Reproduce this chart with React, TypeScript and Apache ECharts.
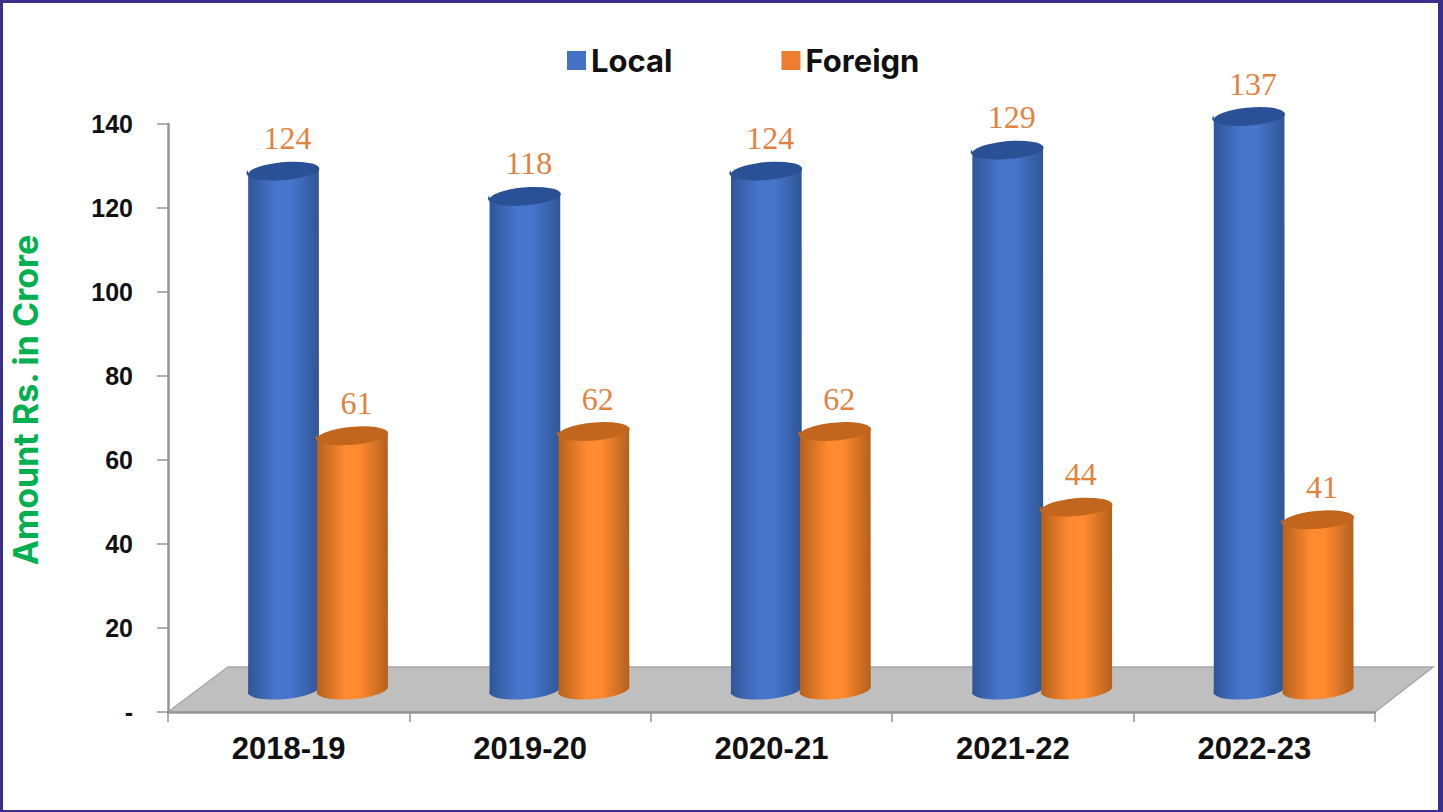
import React, { useEffect, useRef } from "react";
import * as echarts from "echarts";

const categories = ["2018-19", "2019-20", "2020-21", "2021-22", "2022-23"];
const localValues = [124, 118, 124, 129, 137];
const foreignValues = [61, 62, 62, 44, 41];

const W = 1443;
const H = 812;
const SANS = "'Liberation Sans', Arial, sans-serif";
const ROUND = "Inter, 'Noto Sans', sans-serif";
const FRAME = "#3B3089";
const AXIS = "#969696";

const TOP_LIFT = 21;
const BASE_LIFT = 24;
const RY = 9.5;
const TILT = -5;

function cylinder(shift: number, side: string, mid: string, cap: string) {
  return (params: any, api: any) => {
    const band = api.size([1, 0])[0];
    const rx = band * 0.147;
    const top = api.coord([api.value(0), api.value(1)]);
    const base = api.coord([api.value(0), 0]);
    const cx = top[0] + band * shift;
    const topY = top[1] - TOP_LIFT;
    const baseY = base[1] - BASE_LIFT;
    const dy = rx * Math.sin((-TILT * Math.PI) / 180);
    const dx = rx * Math.cos((TILT * Math.PI) / 180);
    const body =
      `M${cx - dx} ${topY + dy} L${cx - dx} ${baseY + dy} ` +
      `A${rx} ${RY} ${TILT} 0 0 ${cx + dx} ${baseY - dy} ` +
      `L${cx + dx} ${topY - dy} Z`;
    const lid =
      `M${cx - dx} ${topY + dy} A${rx} ${RY} ${TILT} 0 1 ${cx + dx} ${topY - dy} ` +
      `A${rx} ${RY} ${TILT} 0 1 ${cx - dx} ${topY + dy} Z`;
    return {
      type: "group",
      children: [
        {
          type: "path",
          shape: { pathData: body },
          style: {
            fill: new echarts.graphic.LinearGradient(0, 0, 1, 0, [
              { offset: 0, color: side },
              { offset: 0.4, color: mid },
              { offset: 0.6, color: mid },
              { offset: 1, color: side },
            ]),
          },
        },
        { type: "path", shape: { pathData: lid }, style: { fill: cap } },
        {
          type: "text",
          x: cx + 4,
          y: topY - 32,
          style: {
            text: String(api.value(1)),
            fill: "#E2823F",
            font: "32px 'Liberation Serif', serif",
            textAlign: "center",
            textVerticalAlign: "middle",
          },
        },
      ],
    };
  };
}

export default function App() {
  const ref = useRef<HTMLDivElement>(null);

  useEffect(() => {
    document.body.style.margin = "0";
    document.body.style.overflow = "hidden";
    const chart = echarts.init(ref.current!, null, { renderer: "svg", width: W, height: H });
    chart.setOption({
      animation: false,
      backgroundColor: "#FFFFFF",
      grid: { left: 168, right: 68, top: 124, bottom: 100, containLabel: false, outerBoundsMode: "none" },
      legend: {
        left: 562,
        top: 40,
        itemWidth: 19,
        itemHeight: 19,
        itemGap: 109,
        icon: "rect",
        data: ["Local", "Foreign"],
        textStyle: {
          fontFamily: ROUND,
          fontWeight: "bold",
          fontSize: 31,
          color: "#111111",
        },
      },
      xAxis: {
        type: "category",
        data: categories,
        axisLine: { lineStyle: { color: AXIS, width: 2.5 } },
        axisTick: { show: true, alignWithLabel: false, length: 10, lineStyle: { color: AXIS, width: 1.5 } },
        axisLabel: {
          margin: 21,
          fontFamily: SANS,
          fontWeight: "bold",
          fontSize: 31,
          color: "#111111",
        },
      },
      yAxis: {
        type: "value",
        min: 0,
        max: 140,
        interval: 20,
        name: "Amount Rs. in Crore",
        nameLocation: "middle",
        nameRotate: 90,
        nameGap: 126,
        nameTextStyle: {
          fontFamily: ROUND,
          fontWeight: "bold",
          fontSize: 34,
          color: "#00B050",
          padding: [0, 0, 0, 36],
        },
        splitLine: { show: false },
        axisLine: { show: true, lineStyle: { color: AXIS, width: 2.5 } },
        axisTick: { show: true, length: 11, lineStyle: { color: AXIS, width: 1.5 } },
        axisLabel: {
          margin: 35,
          fontFamily: SANS,
          fontWeight: "bold",
          fontSize: 25,
          color: "#111111",
          formatter: (v: number) => (v === 0 ? "-" : String(v)),
        },
      },
      graphic: [
        {
          type: "polygon",
          z: -1,
          shape: { points: [[168, 712], [1375, 712], [1433, 667], [228, 667]] },
          style: { fill: "#BFBFBF", stroke: "#A8A8A8", lineWidth: 1.5 },
        },
        { type: "rect", z: 10, shape: { x: 0, y: 0, width: W, height: 3 }, style: { fill: FRAME } },
        { type: "rect", z: 10, shape: { x: 0, y: 810, width: W, height: 2 }, style: { fill: FRAME } },
        { type: "rect", z: 10, shape: { x: 0, y: 0, width: 3, height: H }, style: { fill: FRAME } },
        { type: "rect", z: 10, shape: { x: 1438, y: 0, width: 5, height: H }, style: { fill: FRAME } },
      ],
      series: [
        {
          name: "Local",
          type: "custom",
          itemStyle: { color: "#4472C4" },
          encode: { x: 0, y: 1 },
          data: localValues.map((v, i) => [i, v]),
          renderItem: cylinder(-0.0215, "#2F5597", "#4676CC", "#2A5196"),
        },
        {
          name: "Foreign",
          type: "custom",
          itemStyle: { color: "#ED7D31" },
          encode: { x: 0, y: 1 },
          data: foreignValues.map((v, i) => [i, v]),
          renderItem: cylinder(0.264, "#B4601C", "#FF8A30", "#C2661D"),
        },
      ],
    });
    return () => chart.dispose();
  }, []);

  return <div ref={ref} style={{ position: "absolute", left: 0, top: 0, width: W, height: H }} />;
}
